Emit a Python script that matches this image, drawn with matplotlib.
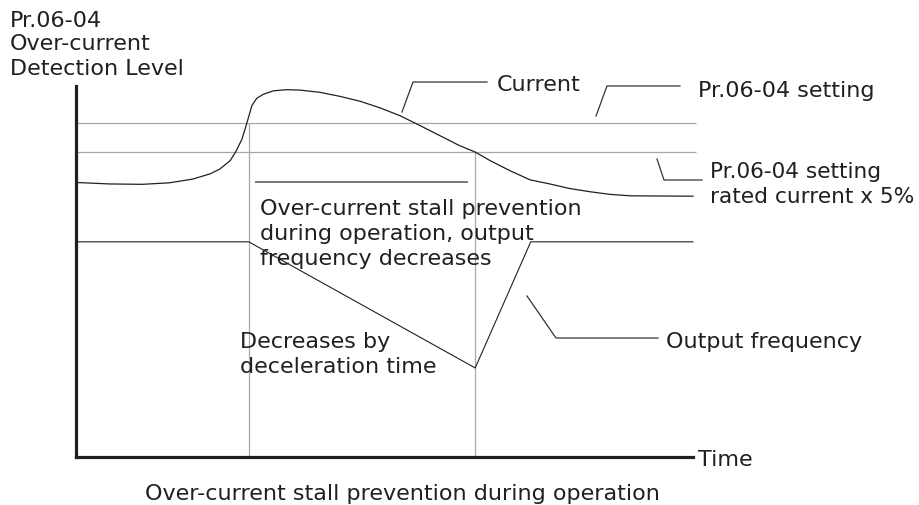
import matplotlib
matplotlib.use("Agg")
import matplotlib.pyplot as plt

# ---- data (time units 0..100, level units 0..100) ----
current_t = [0, 5.4, 10.8, 15.1, 18.9, 21.7, 23.3, 25.0, 26.0, 26.9, 27.4, 27.9,
             28.5, 29.3, 30.4, 32.0, 34.1, 36.3, 39.5, 42.8, 46.0, 49.3, 52.5,
             55.8, 59.0, 62.2, 64.7, 67.1, 70.3, 73.6, 76.8, 79.9, 83.3, 86.5,
             89.8, 100]
current_level = [74.0, 73.6, 73.5, 73.9, 74.9, 76.3, 77.6, 79.9, 82.6, 85.7, 88.4, 91.2,
                 94.7, 96.7, 97.8, 98.7, 99.0, 98.9, 98.3, 97.2, 95.9, 94.1, 92.0,
                 89.3, 86.6, 83.9, 82.2, 79.9, 77.2, 74.7, 73.6, 72.4, 71.5, 70.8,
                 70.4, 70.3]
freq_t = [0, 28.0, 64.7, 73.7, 100]
freq_level = [58.0, 58.0, 24.0, 58.0, 58.0]
setting_level = 90.0
setting_minus5_level = 82.1
stall_start_t = 28.0
stall_end_t = 64.7
stall_bar_t = [29.0, 63.5]
stall_bar_level = 74.1

ylabel_lines = ["Pr.06-04", "Over-current", "Detection Level"]
current_label = "Current"
setting_label = "Pr.06-04 setting"
setting5_lines = ["Pr.06-04 setting", "rated current x 5%"]
stall_lines = ["Over-current stall prevention", "during operation, output", "frequency decreases"]
decel_lines = ["Decreases by", "deceleration time"]
freq_label = "Output frequency"
time_label = "Time"
caption = "Over-current stall prevention during operation"

# ---- layout ----
W, H = 920, 506
fig = plt.figure(figsize=(W / 100, H / 100), dpi=100)
fig.patch.set_facecolor("white")

def px(x, y):
    return (x / W, 1 - y / H)

ax = fig.add_axes([76 / W, (H - 458) / H, (693 - 76) / W, (458 - 87) / H])
ax.set_xlim(0, 100)
ax.set_ylim(0, 100)
ax.set_xticks([])
ax.set_yticks([])
for s in ["top", "right"]:
    ax.spines[s].set_visible(False)
for s in ["left", "bottom"]:
    ax.spines[s].set_linewidth(2.3)
    ax.spines[s].set_color("#231f20")
    ax.spines[s].set_zorder(5)
ax.patch.set_alpha(0)

dark = "#231f20"
gray = "#a8a8a8"

# reference levels
ax.hlines([setting_level, setting_minus5_level], 0, 100.5, colors=gray, lw=0.9,
          zorder=1, clip_on=False)
# stall markers
ax.vlines(stall_start_t, 0, setting_level, colors=gray, lw=0.9, zorder=1)
ax.vlines(stall_end_t, 0, setting_minus5_level, colors=gray, lw=0.9, zorder=1)
ax.hlines(stall_bar_level, stall_bar_t[0], stall_bar_t[1], colors="#6e6e6e", lw=1.3, zorder=2)

# curves
ax.plot(current_t, current_level, color=dark, lw=0.9, zorder=3, clip_on=False,
        solid_joinstyle="round", antialiased=True)
ax.plot(freq_t, freq_level, color=dark, lw=0.8, zorder=3, clip_on=False)

# leader lines (pixel layout)
leaders = [
    [(402, 113), (413, 83), (487, 83)],
    [(596, 117), (607, 87), (680, 87)],
    [(657, 160), (664, 181), (702, 181)],
    [(527, 297), (556, 339), (658, 339)],
]
for pts in leaders:
    xs = [px(*p)[0] for p in pts]
    ys = [px(*p)[1] for p in pts]
    fig.add_artist(plt.Line2D(xs, ys, transform=fig.transFigure, color="#333333", lw=0.9))

# texts
fam = ["DejaVu Sans"]
def txt(s, x, y, fs=16.0):
    fig.text(*px(x, y), s, fontsize=fs, family=fam, color=dark, ha="left", va="baseline")

for s, y in zip(ylabel_lines, [27, 50, 75]):
    txt(s, 10, y)
txt(current_label, 497, 91)
txt(setting_label, 698, 97)
for s, y in zip(setting5_lines, [178, 203]):
    txt(s, 710, y, fs=15.6)
for s, y in zip(stall_lines, [215, 240, 265]):
    txt(s, 260, y)
for s, y in zip(decel_lines, [348, 373]):
    txt(s, 240, y)
txt(freq_label, 666, 348)
txt(time_label, 698, 466)
txt(caption, 145, 500)

fig.savefig("out.png", dpi=100, facecolor="white")
